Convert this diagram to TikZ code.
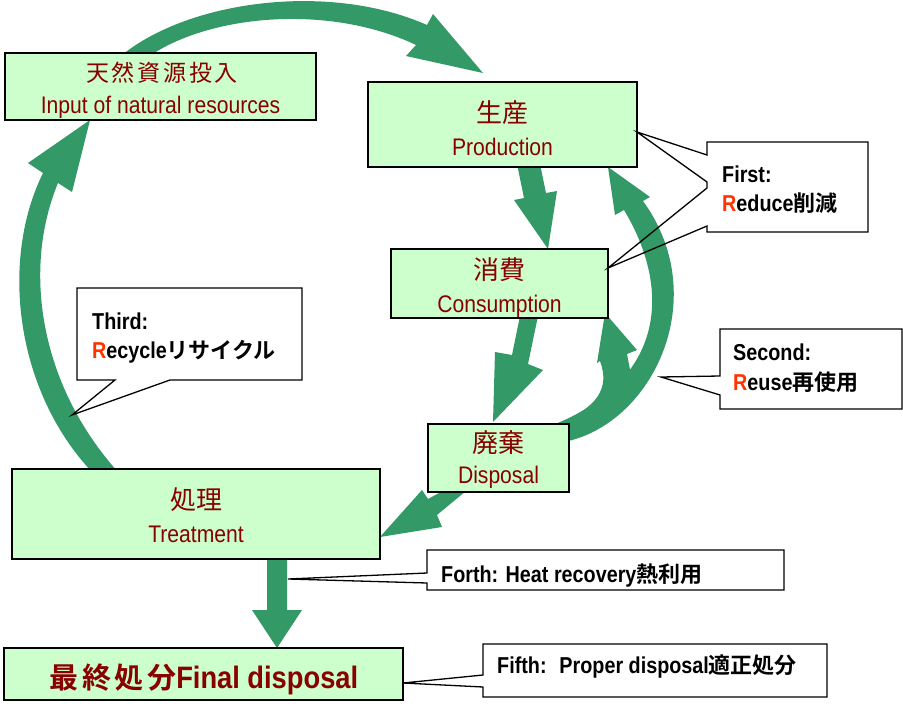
\documentclass[tikz,border=0pt]{standalone}
\usepackage{fontspec}
\setmainfont{Liberation Sans}
\newfontfamily\enfont[FakeStretch=0.88]{Liberation Sans}
\newfontfamily\enbold[FakeStretch=0.86]{Liberation Sans Bold}
\newfontfamily\enboldfull[FakeStretch=0.88]{Liberation Sans Bold}
\newfontfamily\jpfont{Noto Sans CJK JP}
\newfontfamily\jpwide[LetterSpace=12]{Noto Sans CJK JP}
\newfontfamily\jpbold{Noto Sans CJK JP Bold}
\newfontfamily\jpboldwide[LetterSpace=12]{Noto Sans CJK JP Bold}
\definecolor{agreen}{RGB}{51,153,102}
\definecolor{boxgreen}{RGB}{204,255,204}
\definecolor{darkred}{RGB}{136,0,0}
\definecolor{rred}{RGB}{255,51,0}
\begin{document}
\begin{tikzpicture}[x=1pt,y=-1pt,
  gbox/.style={draw=black, line width=2pt, fill=boxgreen, inner sep=0pt, outer sep=0pt},
  jptxt/.style={font=\jpfont\fontsize{26}{30}\selectfont, text=darkred, inner sep=0pt},
  jpsmall/.style={font=\jpwide\fontsize{23}{26}\selectfont, text=darkred, inner sep=0pt},
  entxt/.style={font=\enfont\fontsize{24}{28}\selectfont, text=darkred, inner sep=0pt, anchor=base},
  finaltxt/.style={font=\enboldfull\fontsize{31}{34}\selectfont, text=darkred, inner sep=0pt, anchor=base},
  cbox/.style={fill=white, inner sep=0pt, outer sep=0pt},
  cline/.style={draw=black, line width=1.3pt, line join=miter},
  ctxt/.style={font=\enbold\fontsize{23}{26}\selectfont, inner sep=0pt, anchor=base west},
  arr/.style={fill=agreen},
]
\useasboundingbox (0,0) rectangle (903,704);

% ---------- arrows ----------
% top arc: input -> production
\fill[arr] (122,55) .. controls (190,0) and (330,-18) .. (427,25) -- (433,14) -- (483,73) -- (406,56) -- (416,45) .. controls (330,4) and (210,14) .. (148,57) -- cycle;
% left arc: treatment -> input
\fill[arr] (92,472) .. controls (15,390) and (0,260) .. (43,173) -- (28,163) -- (90,120) -- (72,192) -- (58,183) .. controls (22,270) and (40,385) .. (118,472) -- cycle;
% production -> consumption
\fill[arr] (517,164) -- (524,198) -- (514,200) -- (548,249) -- (557,191) -- (546,193) -- (540,164) -- cycle;
% consumption -> disposal
\fill[arr] (520,316) -- (512,355) -- (495,352) -- (493,422) -- (543,370) -- (528,364) -- (538,316) -- cycle;
% disposal -> production (big reuse arc)
\fill[arr] (558,443) .. controls (650,430) and (715,300) .. (643,201) -- (650,197) -- (608,167) -- (615,215) -- (624,210) .. controls (672,290) and (665,380) .. (553,425) -- cycle;
% disposal -> consumption (inner branch)
\fill[arr] (556,424) .. controls (598,408) and (610,388) .. (600,361) -- (597,363) -- (605,313) -- (637,350) -- (627,354) -- (632,380) -- (600,412) -- cycle;
% disposal -> treatment
\fill[arr] (472,486) -- (437,515) -- (442,527) -- (380,537) -- (422,490) -- (428,499) -- (452,486) -- cycle;
% treatment -> final disposal
\fill[arr] (267,555) -- (267,610) -- (252,610) -- (277,648) -- (302,610) -- (287,610) -- (287,555) -- cycle;

% ---------- boxes ----------
\node[gbox, minimum width=311pt, minimum height=67pt] (input) at (160.5,86.5) {};
\node[gbox, minimum width=269pt, minimum height=85pt] (prod) at (502.5,124.5) {};
\node[gbox, minimum width=217pt, minimum height=69pt] (cons) at (499.5,283.5) {};
\node[gbox, minimum width=141pt, minimum height=68pt] (disp) at (498.5,458) {};
\node[gbox, minimum width=368pt, minimum height=90pt] (treat) at (196,514) {};
\node[gbox, minimum width=399pt, minimum height=52pt] (final) at (203.5,674) {};

\node[jpsmall] (inputjp) at (162,73) {天然資源投入};
\node[entxt] (inputen) at (160.5,113) {Input of natural resources};
\node[jptxt] (prodjp) at (502.5,113) {生産};
\node[entxt] (proden) at (502.5,155) {Production};
\node[jptxt] (consjp) at (499.5,270) {消費};
\node[entxt] (consen) at (499.5,312) {Consumption};
\node[jptxt] (dispjp) at (498.5,443) {廃棄};
\node[entxt] (dispen) at (498.5,483) {Disposal};
\node[jptxt] (treatjp) at (196,500) {処理};
\node[entxt] (treaten) at (196,542) {Treatment};
\node[finaltxt] (finaltext) at (204,688) {{\jpboldwide\fontsize{29}{34}\selectfont 最終処分}Final disposal};

% ---------- callouts ----------
% First
\node[cbox, minimum width=161pt, minimum height=90pt] (first) at (787.5,187) {};
\draw[cline] (707,155) -- (first.north west) -- (first.north east) -- (first.south east) -- (first.south west) -- (707,226) -- (cons.east |- 0,268) -- (707,188) -- (707,182) -- (prod.east |- 0,132) -- cycle;
\node[ctxt] (firstt1) at (722,182) {First:};
\node[ctxt] (firstt2) at (722,211) {\textcolor{rred}{R}educe{\jpbold\fontsize{22}{26}\selectfont 削減}};

% Second
\node[cbox, minimum width=182pt, minimum height=80pt] (second) at (811,369) {};
\coordinate (secondtip) at (661,377);
\draw[cline] (720,376) -- (second.north west) -- (second.north east) -- (second.south east) -- (second.south west) -- (720,395) -- (secondtip) -- cycle;
\node[ctxt] (secondt1) at (733,360) {Second:};
\node[ctxt] (secondt2) at (733,390) {\textcolor{rred}{R}euse{\jpbold\fontsize{22}{26}\selectfont 再使用}};

% Third
\node[cbox, minimum width=225pt, minimum height=92pt] (third) at (189.5,334) {};
\coordinate (thirdtip) at (72,415);
\draw[cline] (115,380) -- (third.south west) -- (third.north west) -- (third.north east) -- (third.south east) -- (170,380) -- (thirdtip) -- cycle;
\node[ctxt] (thirdt1) at (92,329) {Third:};
\node[ctxt] (thirdt2) at (92,358) {\textcolor{rred}{R}ecycle{\jpbold\fontsize{22}{26}\selectfont リサイクル}};

% Forth
\node[cbox, minimum width=357pt, minimum height=40pt] (forth) at (605.5,570) {};
\coordinate (forthtip) at (288,579);
\draw[cline] (427,573) -- (forth.north west) -- (forth.north east) -- (forth.south east) -- (forth.south west) -- (427,583) -- (forthtip) -- cycle;
\node[ctxt] (fortht) at (441,582) {Forth: Heat recovery{\jpbold\fontsize{22}{26}\selectfont 熱利用}};

% Fifth
\node[cbox, minimum width=344pt, minimum height=53pt] (fifth) at (655,670.5) {};
\draw[cline] (483,675) -- (fifth.north west) -- (fifth.north east) -- (fifth.south east) -- (fifth.south west) -- (483,687) -- (final.east |- 0,683) -- cycle;
\node[ctxt] (fiftht) at (497,673) {Fifth:~ Proper disposal{\jpbold\fontsize{22}{26}\selectfont 適正処分}};
\end{tikzpicture}
\end{document}
